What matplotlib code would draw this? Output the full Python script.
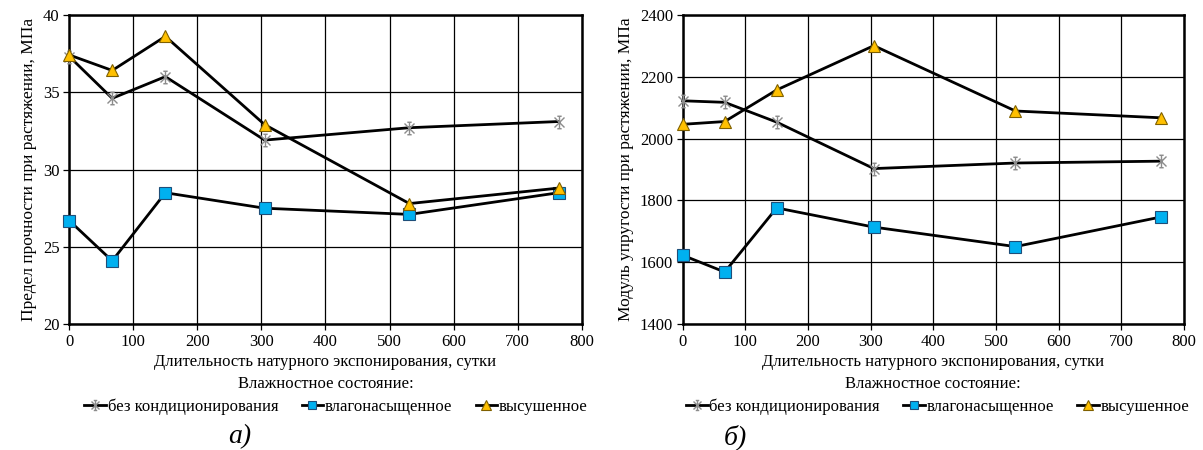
import matplotlib
matplotlib.use("Agg")
import matplotlib.pyplot as plt
from matplotlib.path import Path

plt.rcParams['font.family'] = ['Liberation Serif', 'DejaVu Serif']
plt.rcParams['font.size'] = 12

days = [0, 67, 150, 305, 531, 764]

# (a) tensile strength, MPa
strength_none = [37.3, 34.6, 36.0, 31.9, 32.7, 33.1]
strength_wet = [26.7, 24.1, 28.5, 27.5, 27.1, 28.5]
strength_dry = [37.4, 36.4, 38.6, 32.9, 27.8, 28.8]

# (б) modulus, MPa
modulus_none = [2122, 2117, 2053, 1903, 1921, 1927]
modulus_wet = [1623, 1569, 1776, 1714, 1651, 1747]
modulus_dry = [2046, 2055, 2157, 2300, 2089, 2067]

series_labels = ['без кондиционирования', 'влагонасыщенное', 'высушенное']
xlabel = 'Длительность натурного экспонирования, сутки'
legend_title = 'Влажностное состояние:'

star = Path([(0, -1), (0, 1), (-0.8, -0.8), (0.8, 0.8), (-0.8, 0.8), (0.8, -0.8),
             (-0.35, 1), (0.35, 1), (-0.35, -1), (0.35, -1)],
            [Path.MOVETO, Path.LINETO] * 5)

styles = [
    dict(marker=star, markersize=9, markeredgecolor='#8c8c8c', markerfacecolor='none', markeredgewidth=1.0),
    dict(marker='s', markersize=8, markerfacecolor='#00B0F0', markeredgecolor='#1f4e79', markeredgewidth=0.8),
    dict(marker='^', markersize=9, markerfacecolor='#FFC000', markeredgecolor='#7f6000', markeredgewidth=0.8),
]

fig = plt.figure(figsize=(12.03, 4.5), dpi=100)
ax1 = fig.add_axes([0.0576, 0.2793, 0.4259, 0.688])
ax2 = fig.add_axes([0.5675, 0.2793, 0.4167, 0.688])

panels = [
    (ax1, [strength_none, strength_wet, strength_dry], (20, 40), [20, 25, 30, 35, 40],
     'Предел прочности при растяжении, МПа'),
    (ax2, [modulus_none, modulus_wet, modulus_dry], (1400, 2400), [1400, 1600, 1800, 2000, 2200, 2400],
     'Модуль упругости при растяжении, МПа'),
]

for ax, data, ylim, yticks, ylabel in panels:
    for vals, st, lab in zip(data, styles, series_labels):
        ax.plot(days, vals, color='black', lw=2.0, label=lab, zorder=3, clip_on=False, **st)
    ax.set_xlim(0, 800)
    ax.set_ylim(*ylim)
    ax.set_xticks(range(0, 801, 100))
    ax.set_yticks(yticks)
    ax.grid(True, color='black', lw=0.9)
    ax.set_axisbelow(True)
    for s in ax.spines.values():
        s.set_linewidth(1.8)
        s.set_zorder(2.5)
    ax.tick_params(direction='out', length=4, width=0.9, labelsize=12, pad=3)
    ax.set_ylabel(ylabel, fontsize=12.5, labelpad=4)
    ax.set_xlabel(xlabel, fontsize=12, labelpad=3)

for ax, cx_leg in [(ax1, 0.2793), (ax2, 0.7795)]:
    bb = ax.get_position()
    cx = (bb.x0 + bb.x1) / 2
    fig.text(cx, 1 - 384 / 450, legend_title, ha='center', va='center', fontsize=12)
    handles, labels = ax.get_legend_handles_labels()
    fig.legend(handles, labels, loc='center', bbox_to_anchor=(cx_leg, 1 - 407 / 450),
               ncol=3, frameon=False, fontsize=12, handlelength=1.3, handletextpad=0.1,
               columnspacing=1.4, borderpad=0, markerscale=0.8)

fig.text(240 / 1203, 1 - 437 / 450, 'а)', ha='center', va='center', fontsize=20, style='italic')
fig.text(735 / 1203, 1 - 437 / 450, 'б)', ha='center', va='center', fontsize=20, style='italic')

fig.savefig('out.png', dpi=100)
